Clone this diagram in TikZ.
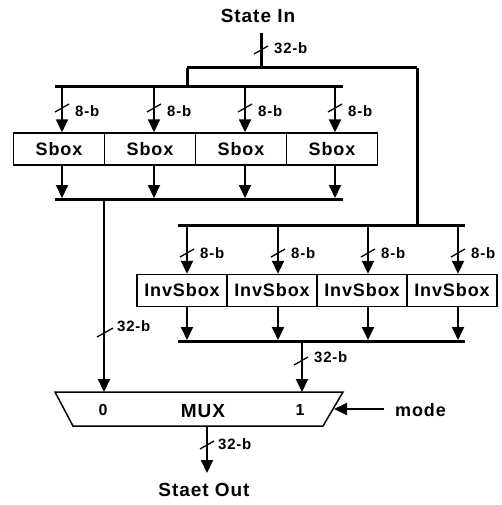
\documentclass[tikz,border=0pt]{standalone}
\usepackage{fontspec}
\setmainfont[LetterSpace=5]{Liberation Sans}
\usetikzlibrary{arrows.meta}
\begin{document}
\begin{tikzpicture}[x=1pt,y=-1pt,
  bus/.style={line width=3pt},
  wire/.style={line width=2pt},
  arr/.style={wire,-{Triangle[width=12pt,length=13pt]}},
  slashmark/.style={line width=1.3pt},
  boxtxt/.style={font=\fontsize{18}{18}\selectfont\bfseries},
  sbx/.style={draw,line width=1.4pt,minimum height=32pt,inner sep=0pt,boxtxt},
  lbl/.style={anchor=west,inner sep=0pt,font=\fontsize{15}{15}\selectfont\bfseries},
  ttl/.style={inner sep=0pt,font=\fontsize{19}{19}\selectfont\bfseries}
]
\useasboundingbox (0,0) rectangle (501,505);

% title and input
\node[ttl] (tin) at (258,16) {State In};
\coordinate (inp) at (261,33);
\coordinate (j0) at (261,68);
\coordinate (jl) at (187,68);
\coordinate (jr) at (417,68);
\coordinate (jl2) at (187,87);
\coordinate (jr2) at (417,225);
\draw[bus] (inp) -- (j0);
\draw[slashmark] (254,54) -- (268,46);
\node[lbl] (lin) at (274,48) {32-b};
\draw[bus] (jl) -- (jr);
\draw[bus] (jl) -- (jl2);
\draw[bus] (jr) -- (jr2);

% top bus
\coordinate (tb1) at (55,87);
\coordinate (tb2) at (343,87);
\draw[bus] (tb1) -- (tb2);

% Sboxes
\node[sbx,minimum width=91pt] (sb1) at (59,149) {Sbox};
\node[sbx,minimum width=91pt] (sb2) at (150,149) {Sbox};
\node[sbx,minimum width=91pt] (sb3) at (241,149) {Sbox};
\node[sbx,minimum width=91pt] (sb4) at (332,149) {Sbox};

\foreach \i/\x in {1/62,2/154,3/245,4/335}{
  \coordinate (d\i) at (\x,87);
  \coordinate (e\i) at (\x,198);
  \draw[arr] (d\i) -- (d\i |- sb\i.north);
  \draw[slashmark] (\x-7,112) -- (\x+7,104);
  \node[lbl] (l\i) at (\x+13,111) {8-b};
  \draw[arr] (d\i |- sb\i.south) -- (e\i);
}

% Sbox output bus
\coordinate (sb1b) at (55,199);
\coordinate (sb2b) at (343,199);
\draw[bus] (sb1b) -- (sb2b);
\coordinate (so) at (104,199);
\coordinate (m0) at (104,392);
\draw[arr] (so) -- (m0);
\draw[slashmark] (97,337) -- (113,328);
\node[lbl] (lso) at (117,326) {32-b};

% InvSbox bus
\coordinate (ib1t) at (178,225);
\coordinate (ib2t) at (465,225);
\draw[bus] (ib1t) -- (ib2t);

\node[sbx,minimum width=90pt] (ib1) at (182,290.5) {InvSbox};
\node[sbx,minimum width=90pt] (ib2) at (272,290.5) {InvSbox};
\node[sbx,minimum width=90pt] (ib3) at (362,290.5) {InvSbox};
\node[sbx,minimum width=90pt] (ib4) at (452,290.5) {InvSbox};

\foreach \i/\x in {1/187,2/278,3/368,4/458}{
  \coordinate (f\i) at (\x,225);
  \coordinate (g\i) at (\x,340);
  \draw[arr] (f\i) -- (f\i |- ib\i.north);
  \draw[slashmark] (\x-7,257) -- (\x+7,249);
  \node[lbl] (k\i) at (\x+13,253) {8-b};
  \draw[arr] (f\i |- ib\i.south) -- (g\i);
}

\coordinate (ib1b) at (178,341);
\coordinate (ib2b) at (465,341);
\draw[bus] (ib1b) -- (ib2b);
\coordinate (io) at (302,341);
\coordinate (m1) at (302,392);
\draw[arr] (io) -- (m1);
\draw[slashmark] (294,365) -- (308,357);
\node[lbl] (lio) at (314,357) {32-b};

% MUX
\coordinate (mtl) at (55,392);
\coordinate (mtr) at (343,392);
\coordinate (mbr) at (323,426);
\coordinate (mbl) at (73,426);
\draw[line width=1.5pt] (mtl) -- (mtr) -- (mbr) -- (mbl) -- cycle;
\node[boxtxt,font=\fontsize{16}{16}\selectfont\bfseries] (mz) at (103,410) {0};
\node[boxtxt,font=\fontsize{19}{19}\selectfont\bfseries] (mx) at (203,411) {MUX};
\node[boxtxt,font=\fontsize{16}{16}\selectfont\bfseries] (mo) at (300,410) {1};
\node[boxtxt,anchor=west,inner sep=0pt] (mode) at (395,410) {mode};
\coordinate (ms) at (334,409);
\draw[arr] (mode.west) ++(-11,-1) -- (ms);

% output
\coordinate (oo) at (207,426);
\coordinate (oe) at (207,473);
\draw[arr] (oo) -- (oe);
\draw[slashmark] (200,449) -- (214,441);
\node[lbl] (lo) at (218,444) {32-b};
\node[ttl] (tout) at (204,490) {Staet Out};
\end{tikzpicture}
\end{document}
